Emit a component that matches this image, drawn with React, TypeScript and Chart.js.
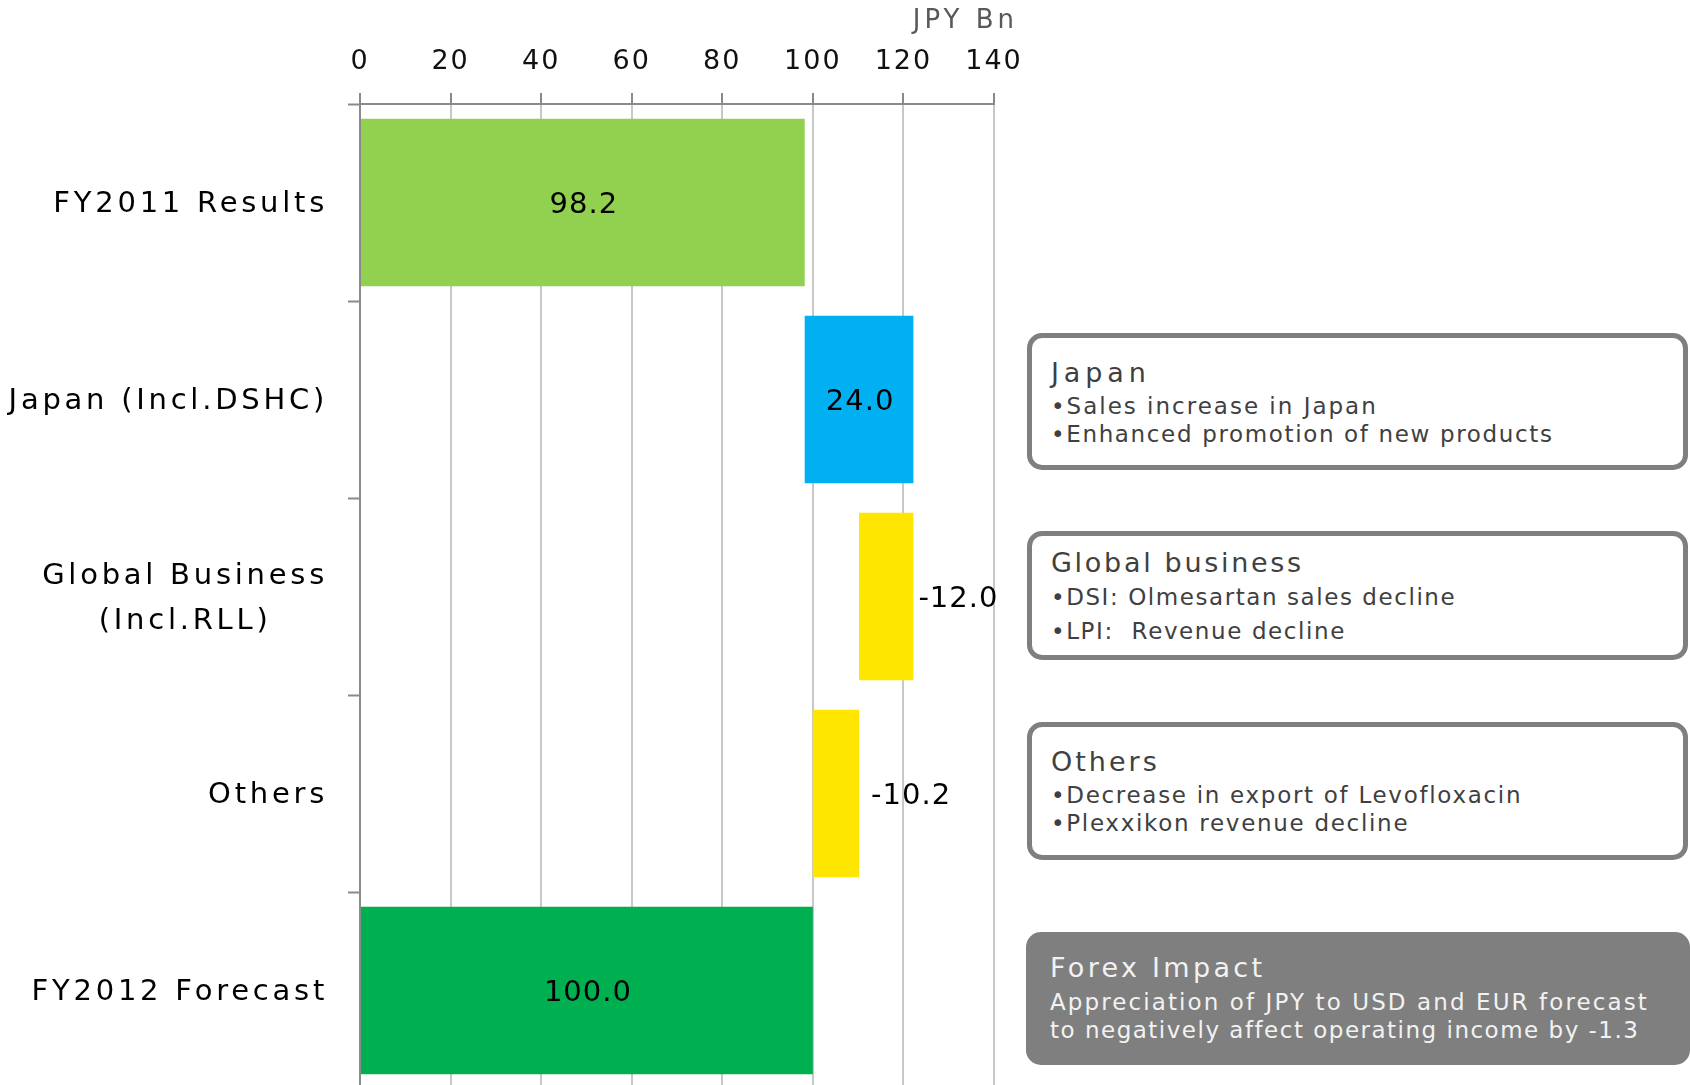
import React, { useEffect, useRef } from 'react';
import { Chart, registerables } from 'chart.js';

Chart.register(...registerables);

// ---------- data ----------
const categories: string[][] = [
  ['FY2011 Results'],
  ['Japan (Incl.DSHC)'],
  ['Global Business', '(Incl.RLL)'],
  ['Others'],
  ['FY2012 Forecast'],
];
const values: number[] = [98.2, 24.0, -12.0, -10.2, 100.0];
const barKinds: string[] = ['total', 'delta', 'delta', 'delta', 'total'];
const barColors: string[] = ['#92D050', '#00B0F0', '#FFE600', '#FFE600', '#00B050'];
const labelPlacement: string[] = ['center', 'center', 'outside', 'outside', 'center'];
const labelGap: number[] = [0, 0, 5, 12, 0];
const xTicks: number[] = [0, 20, 40, 60, 80, 100, 120, 140];
const unitLabel = 'JPY Bn';

const noteTitles: string[] = ['Japan', 'Global business', 'Others', 'Forex Impact'];
const noteLines: string[][] = [
  ['•Sales increase in Japan', '•Enhanced promotion of new products'],
  ['•DSI: Olmesartan sales decline', '•LPI:  Revenue decline'],
  ['•Decrease in export of Levofloxacin', '•Plexxikon revenue decline'],
  ['Appreciation of JPY to USD and EUR forecast', 'to negatively affect operating income by -1.3'],
];

// ---------- layout / style ----------
const FONT = '"DejaVu Sans", sans-serif';
const noteBoxes = [
  { left: 1027, top: 333, width: 661, height: 137, filled: false, ys: [373, 406, 434], ls: [4.9, 2, 1.65] },
  { left: 1027, top: 531, width: 661, height: 129, filled: false, ys: [563, 597, 631], ls: [2.7, 1.57, 1.6] },
  { left: 1027, top: 722, width: 661, height: 138, filled: false, ys: [762, 795, 823], ls: [3, 1.7, 1.7] },
  { left: 1026, top: 932, width: 664, height: 133, filled: true, ys: [968, 1002, 1030], ls: [3.3, 2.1, 1.5] },
];

function buildRanges(): [number, number][] {
  const out: [number, number][] = [];
  let run = 0;
  values.forEach((v, i) => {
    if (barKinds[i] === 'total') {
      out.push([0, v]);
      run = v;
    } else {
      out.push([run, run + v]);
      run += v;
    }
  });
  return out;
}

const textPlugin = {
  id: 'customTexts',
  beforeDraw(chart: any) {
    chart.ctx.letterSpacing = '2px';
  },
  afterDatasetsDraw(chart: any) {
    const ctx = chart.ctx;
    const meta = chart.getDatasetMeta(0);
    ctx.save();
    ctx.font = `29px ${FONT}`;
    ctx.letterSpacing = '1px';
    ctx.fillStyle = '#000';
    ctx.textBaseline = 'middle';
    meta.data.forEach((bar: any, i: number) => {
      const p = bar.getProps(['x', 'base', 'y'], true);
      const txt = values[i].toFixed(1);
      if (labelPlacement[i] === 'center') {
        ctx.textAlign = 'center';
        ctx.fillText(txt, (p.x + p.base) / 2 + 1, p.y + 3);
      } else {
        ctx.textAlign = 'left';
        ctx.fillText(txt, Math.max(p.x, p.base) + labelGap[i], p.y + 3);
      }
    });
    ctx.restore();
  },
  afterDraw(chart: any) {
    const ctx = chart.ctx;
    const yScale = chart.scales.y;
    ctx.save();
    ctx.font = `29px ${FONT}`;
    ctx.letterSpacing = '3.75px';
    ctx.fillStyle = '#000';
    ctx.textBaseline = 'middle';
    ctx.textAlign = 'center';
    const right = 328;
    categories.forEach((lines, i) => {
      const yc = yScale.getPixelForValue(i) + 2;
      const w = Math.max(...lines.map((l) => ctx.measureText(l).width));
      const cx = right - w / 2;
      lines.forEach((l, j) => {
        const y = yc + (j - (lines.length - 1) / 2) * 45;
        ctx.fillText(l, cx, y);
      });
    });
    ctx.restore();
  },
};

export default function App() {
  const ref = useRef<HTMLCanvasElement | null>(null);

  useEffect(() => {
    if (!ref.current) return;
    const chart = new Chart(ref.current, {
      type: 'bar',
      data: {
        labels: categories.map((c) => c.join(' ')),
        datasets: [
          {
            data: buildRanges() as any,
            backgroundColor: barColors,
            borderWidth: 0,
            barPercentage: 0.85,
            categoryPercentage: 1,
          },
        ],
      },
      options: {
        indexAxis: 'y',
        responsive: false,
        animation: false,
        devicePixelRatio: 1,
        layout: { padding: { left: 0, right: 696, top: 0, bottom: 11 } },
        plugins: { legend: { display: false }, tooltip: { enabled: false } },
        scales: {
          x: {
            type: 'linear',
            position: 'top',
            min: 0,
            max: 140,
            afterBuildTicks: (s: any) => {
              s.ticks = xTicks.map((v) => ({ value: v }));
            },
            grid: { color: '#c8c8c8', lineWidth: 2, tickColor: '#8a8a8a', tickWidth: 2, tickLength: 11 },
            border: { color: '#8a8a8a', width: 2 },
            ticks: {
              font: { family: 'DejaVu Sans', size: 27 },
              color: '#111',
              padding: 15,
              maxRotation: 0,
              autoSkip: false,
            },
            afterFit: (s: any) => {
              s.height = 104;
            },
          },
          y: {
            type: 'category',
            grid: { drawOnChartArea: false, tickLength: 12, tickColor: '#8a8a8a', tickWidth: 2, offset: true },
            border: { color: '#8a8a8a', width: 2 },
            ticks: { display: false },
            afterFit: (s: any) => {
              s.width = 360;
            },
          },
        },
      } as any,
      plugins: [textPlugin],
    });
    return () => chart.destroy();
  }, []);

  return (
    <div
      style={{
        position: 'fixed',
        left: 0,
        top: 0,
        width: 1690,
        height: 1085,
        overflow: 'hidden',
        background: '#fff',
        fontFamily: FONT,
      }}
    >
      <canvas ref={ref} width={1690} height={1100} style={{ display: 'block', width: 1690, height: 1100 }} />
      <div
        style={{
          position: 'absolute',
          right: 672,
          top: 3,
          fontSize: 26,
          lineHeight: '32px',
          letterSpacing: '4px',
          color: '#595959',
          whiteSpace: 'pre',
        }}
      >
        {unitLabel}
      </div>
      {noteBoxes.map((b, i) => {
        const color = b.filled ? '#f2f2f2' : '#404040';
        const items = [noteTitles[i], ...noteLines[i]];
        return (
          <div
            key={i}
            style={{
              position: 'absolute',
              left: b.left,
              top: b.top,
              width: b.width,
              height: b.height,
              boxSizing: 'border-box',
              border: b.filled ? 'none' : '5px solid #7f7f7f',
              background: b.filled ? '#7f7f7f' : '#fff',
              borderRadius: 15,
            }}
          >
            {items.map((t, j) => {
              const fs = j === 0 ? 27 : 23;
              const lh = j === 0 ? 32 : 28;
              const off = b.filled ? 0 : 5;
              return (
                <div
                  key={j}
                  style={{
                    position: 'absolute',
                    left: 24 - off,
                    top: b.ys[j] - b.top - lh / 2 - off,
                    fontSize: fs,
                    lineHeight: `${lh}px`,
                    letterSpacing: `${b.ls[j]}px`,
                    color,
                    whiteSpace: 'pre',
                  }}
                >
                  {t}
                </div>
              );
            })}
          </div>
        );
      })}
    </div>
  );
}
